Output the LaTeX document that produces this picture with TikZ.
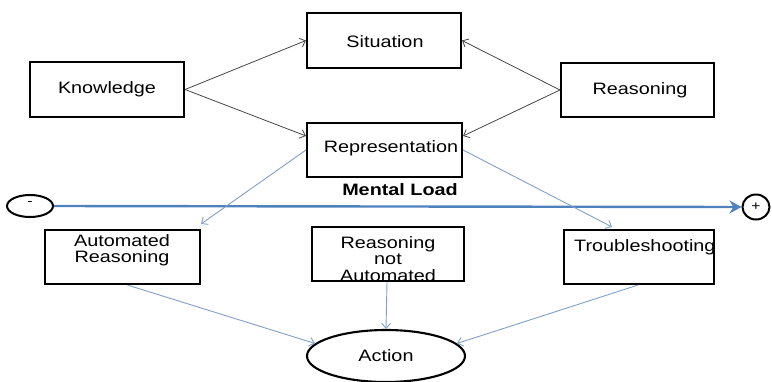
\documentclass[tikz,border=0pt]{standalone}
\usepackage{fontspec}
\setmainfont{Liberation Sans}[FakeStretch=1.2]
\usetikzlibrary{arrows.meta,shapes.geometric,calc}
\definecolor{lineblue}{RGB}{127,160,200}
\definecolor{mainblue}{RGB}{79,129,189}
\definecolor{darkline}{RGB}{70,70,70}
\begin{document}
\begin{tikzpicture}[x=1pt,y=-1pt,
  box/.style={draw=black,line width=2.1pt,rectangle,inner sep=0pt},
  txt/.style={inner sep=0pt,align=center,font=\fontsize{16.5}{16.5}\selectfont},
  blk/.style={draw=darkline,line width=0.8pt,-{Straight Barb[length=5pt,width=9pt]}},
  blu/.style={draw=lineblue,line width=0.9pt,-{Straight Barb[length=5pt,width=9pt]}},
  pole/.style={draw=black,line width=2pt,ellipse,inner sep=0pt}]
\useasboundingbox (0,0) rectangle (772,381);

% boxes
\node[box,minimum width=154pt,minimum height=55pt] (kn) at (107,89.5) {};
\node[box,minimum width=154pt,minimum height=55pt] (sit) at (384,40.5) {};
\node[box,minimum width=155pt,minimum height=54pt] (rep) at (384.5,150) {};
\node[box,minimum width=153pt,minimum height=54pt] (rea) at (637.5,90) {};
\node[box,minimum width=155pt,minimum height=54pt] (ar) at (122.5,257) {};
\node[box,minimum width=152pt,minimum height=54pt] (rna) at (388,254) {};
\node[box,minimum width=150pt,minimum height=54pt] (ts) at (639,257) {};
\node[draw=black,line width=2.1pt,ellipse,minimum width=158pt,minimum height=52pt,inner sep=0pt] (act) at (386,356) {};

% texts
\node[txt] (knt) at (107,89) {Knowledge};
\node[txt] (sitt) at (385,42) {Situation};
\node[txt] (rept) at (391,148) {Representation};
\node[txt] (reat) at (640,90) {Reasoning};
\node[txt] (art) at (122,250) {Automated\\Reasoning};
\node[txt] (rnat) at (388,259) {Reasoning\\not\\Automated};
\node[txt,anchor=west] (tst) at (574,247) {Troubleshooting};
\node[txt] (actt) at (386,356) {Action};
\node[txt,font=\bfseries\fontsize{16.5}{16.5}\selectfont] (ml) at (400,190) {Mental Load};

% poles
\node[pole,minimum width=46pt,minimum height=22pt] (minus) at (30,206) {};
\node[inner sep=0pt,font=\fontsize{13}{13}\selectfont] (minust) at (30,204) {-};
\node[pole,minimum width=27pt,minimum height=25pt] (plus) at (756,207) {};
\node[inner sep=0pt,font=\fontsize{13}{13}\selectfont] (plust) at (756,207) {+};

% black connectors
\coordinate (repL) at ($(rep.north west)!0.25!(rep.south west)$);
\coordinate (repR) at ($(rep.north east)!0.25!(rep.south east)$);
\draw[blk] (kn.east) -- (sit.west);
\draw[blk] (kn.east) -- (repL);
\draw[blk] (rea.west) -- (sit.east);
\draw[blk] (rea.west) -- (repR);

% main axis
\draw[draw=mainblue,line width=2.4pt,-{Stealth[length=12pt,width=13pt]}] (minus.east) -- (plus.west);

% blue connectors
\draw[blu] (rep.west) -- ([yshift=5pt]ar.north east);
\draw[blu] (rep.east) -- ([xshift=-27pt,yshift=2pt]ts.north);
\draw[blu] ([xshift=5pt]ar.south) -- (act.170);
\draw[blu] ([xshift=-1pt]rna.south) -- (act.north);
\draw[blu] ([xshift=-1pt]ts.south) -- (act.10);
\end{tikzpicture}
\end{document}
